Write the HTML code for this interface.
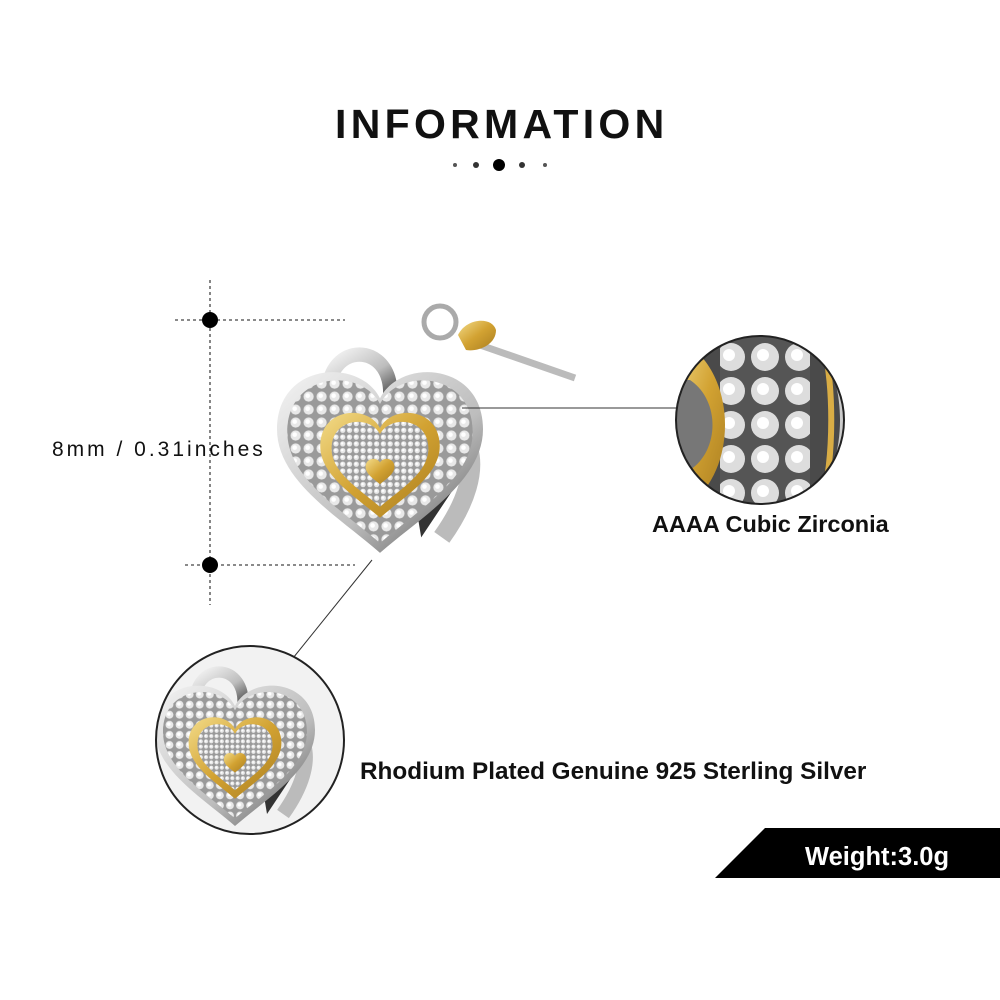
<!DOCTYPE html>
<html><head><meta charset="utf-8"><style>
html,body{margin:0;padding:0;background:#fff;}
body{width:1000px;height:1000px;position:relative;overflow:hidden;font-family:"Liberation Sans",sans-serif;}
.t{position:absolute;white-space:nowrap;color:#111;}
</style></head><body>
<svg width="1000" height="1000" style="position:absolute;left:0;top:0">
<defs>
<path id="h" d="M0,-55 C-20,-95 -100,-90 -100,-25 C-100,25 -40,60 0,95 C40,60 100,25 100,-25 C100,-90 20,-95 0,-55 Z"/>
<pattern id="pave" width="14" height="14" patternUnits="userSpaceOnUse">
<rect width="14" height="14" fill="#9a9a9a"/><circle cx="7" cy="7" r="5.5" fill="#e8e8e8"/><circle cx="6" cy="6" r="2.5" fill="#fff"/>
</pattern>
<pattern id="pave2" width="34" height="34" patternUnits="userSpaceOnUse">
<rect width="34" height="34" fill="#555"/><circle cx="17" cy="17" r="14" fill="#ddd"/><circle cx="15" cy="15" r="6" fill="#fff"/>
</pattern>
<linearGradient id="gold" x1="0" y1="0" x2="1" y2="1"><stop offset="0" stop-color="#f3dc8a"/><stop offset="0.5" stop-color="#d2a232"/><stop offset="1" stop-color="#a97d20"/></linearGradient>
<linearGradient id="sil" x1="0" y1="0" x2="1" y2="1"><stop offset="0" stop-color="#f4f4f4"/><stop offset="0.6" stop-color="#bdbdbd"/><stop offset="1" stop-color="#555"/></linearGradient>
<g id="charm">
<path d="M-50,-60 C-50,-110 10,-110 10,-60" fill="none" stroke="url(#sil)" stroke-width="14"/>
<path d="M20,-40 L60,-40 L80,20 L40,80 Z" fill="#333"/>
<path d="M30,-40 C90,-40 110,10 60,80" fill="none" stroke="#bbb" stroke-width="18"/>
<use href="#h" fill="url(#sil)"/>
<use href="#h" transform="scale(0.9)" fill="url(#pave)"/>
<use href="#h" transform="scale(0.58) translate(0,10)" fill="url(#gold)"/>
<use href="#h" transform="scale(0.47) translate(0,12)" fill="url(#pave)"/>
<use href="#h" transform="translate(0,15) scale(0.14)" fill="url(#gold)"/>
</g>
</defs>
<line x1="210" y1="280" x2="210" y2="605" stroke="#444" stroke-width="1.3" stroke-dasharray="3,3"/>
<line x1="175" y1="320" x2="345" y2="320" stroke="#444" stroke-width="1.3" stroke-dasharray="3,3"/>
<line x1="185" y1="565" x2="355" y2="565" stroke="#444" stroke-width="1.3" stroke-dasharray="3,3"/>
<circle cx="210" cy="320" r="8" fill="#000"/>
<circle cx="210" cy="565" r="8" fill="#000"/>
<circle cx="455" cy="165" r="2" fill="#555"/><circle cx="476" cy="165" r="3" fill="#333"/>
<circle cx="499" cy="165" r="6" fill="#000"/><circle cx="522" cy="165" r="3" fill="#333"/><circle cx="545" cy="165" r="2" fill="#555"/>
<circle cx="440" cy="322" r="16" fill="none" stroke="#aaa" stroke-width="5"/>
<line x1="480" y1="345" x2="575" y2="378" stroke="#bbb" stroke-width="7"/>
<path d="M458,335 C466,318 492,316 496,330 C496,345 478,352 466,350 Z" fill="url(#gold)"/>
<g transform="translate(380,455) scale(1.03)"><use href="#charm"/></g>
<line x1="462" y1="408" x2="680" y2="408" stroke="#333" stroke-width="1"/>
<line x1="372" y1="560" x2="285" y2="668" stroke="#333" stroke-width="1"/>
<clipPath id="c1"><circle cx="760" cy="420" r="84"/></clipPath>
<g clip-path="url(#c1)">
<rect x="670" y="330" width="180" height="180" fill="#4a4a4a"/>
<rect x="720" y="330" width="90" height="180" fill="url(#pave2)"/>
<path d="M680,340 C740,370 740,480 680,510 L670,510 L670,340 Z" fill="url(#gold)"/>
<path d="M690,380 C720,400 720,450 690,470 L670,470 L670,380Z" fill="#777"/>
<path d="M810,330 C850,380 850,460 810,510 L850,510 L850,330Z" fill="#ccc"/>
<path d="M820,330 C835,380 835,460 820,510" fill="none" stroke="#d9ad45" stroke-width="6"/>
</g>
<circle cx="760" cy="420" r="84" fill="none" stroke="#222" stroke-width="2"/>
<clipPath id="c2"><circle cx="250" cy="740" r="94"/></clipPath>
<g clip-path="url(#c2)">
<rect x="150" y="640" width="200" height="200" fill="#f2f2f2"/>
<g transform="translate(235,750) scale(0.8)"><use href="#charm"/></g>
</g>
<circle cx="250" cy="740" r="94" fill="none" stroke="#222" stroke-width="2"/>
<polygon points="765,828 1000,828 1000,878 715,878" fill="#000"/>
</svg>
<div class="t" style="left:335px;top:101px;font-size:41px;font-weight:bold;letter-spacing:4.3px;">INFORMATION</div>
<div class="t" style="left:52px;top:438px;font-size:21px;letter-spacing:3px;">8mm / 0.31inches</div>
<div class="t" style="left:652px;top:511px;font-size:23.5px;font-weight:bold;">AAAA Cubic Zirconia</div>
<div class="t" style="left:360px;top:758px;font-size:24.3px;font-weight:bold;">Rhodium Plated Genuine 925 Sterling Silver</div>
<div class="t" style="left:805px;top:843px;font-size:25.5px;font-weight:bold;color:#fff;">Weight:3.0g</div>
</body></html>
